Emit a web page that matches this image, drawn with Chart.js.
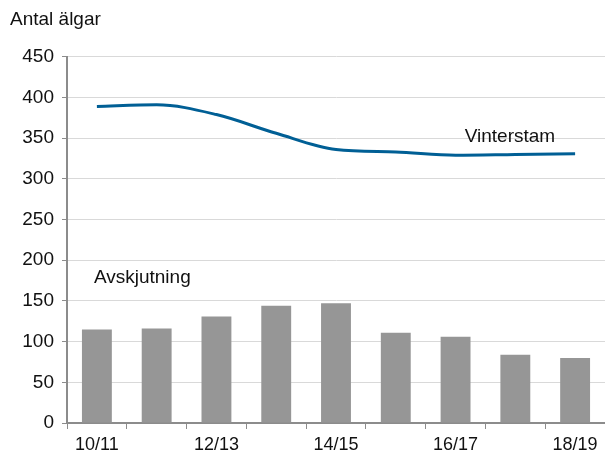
<!DOCTYPE html>
<html>
<head>
<meta charset="utf-8">
<script src="https://cdn.jsdelivr.net/npm/chart.js@4"></script>
<style>
  html, body { margin: 0; padding: 0; background: #fff; }
  #wrap { width: 605px; height: 455px; }
</style>
</head>
<body>
<div id="wrap"><canvas id="elgChart" width="605" height="455"></canvas></div>
<script>
// säsonger och värden
const seasons = ["10/11", "11/12", "12/13", "13/14", "14/15", "15/16", "16/17", "17/18", "18/19"];
const avskjutning = [115, 116, 131, 144, 147, 111, 106, 84, 80];
const vinterstam = [389, 391, 379, 356, 336, 333, 329, 330, 331];
const yTicks = [0, 50, 100, 150, 200, 250, 300, 350, 400, 450];

const fontFam = "'Liberation Sans', Arial, sans-serif";
Chart.defaults.font.family = fontFam;
Chart.defaults.font.size = 19;
Chart.defaults.color = "#111";

// textetiketter i diagrammet
const seriesLabels = {
    id: "seriesLabels",
    afterDatasetsDraw(chart) {
        const ctx = chart.ctx;
        const x = chart.scales.x, y = chart.scales.y;
        ctx.save();
        ctx.font = "19px " + fontFam;
        ctx.fillStyle = "#111";
        ctx.textBaseline = "middle";
        ctx.textAlign = "center";
        ctx.fillText("Vinterstam", x.getPixelForValue(6.91), y.getPixelForValue(352));
        ctx.textAlign = "left";
        ctx.fillText("Avskjutning", x.getPixelForValue(-0.05), y.getPixelForValue(178));
        ctx.restore();
    }
};

let ctx = document.getElementById("elgChart").getContext("2d");
let elgChart = new Chart(ctx, {
    type: "bar",
    data: {
        labels: seasons,
        datasets: [{
            type: "line",
            label: "Vinterstam",
            data: vinterstam,
            borderColor: "#005f95",
            borderWidth: 3,
            pointRadius: 0,
            tension: 0.4,
            cubicInterpolationMode: "monotone",
            fill: false,
            order: 0
        }, {
            type: "bar",
            label: "Avskjutning",
            data: avskjutning,
            backgroundColor: "#969696",
            categoryPercentage: 0.5,
            barPercentage: 1.0,
            order: 1
        }]
    },
    options: {
        responsive: false,
        maintainAspectRatio: false,
        animation: false,
        layout: { padding: { left: 10, right: 0, top: 0, bottom: 0 } },
        plugins: {
            legend: { display: false },
            tooltip: { enabled: false },
            title: {
                display: true,
                text: "Antal älgar",
                align: "start",
                color: "#111",
                font: { size: 19, weight: "normal" },
                padding: { top: 8, bottom: 26 }
            }
        },
        scales: {
            x: {
                offset: true,
                grid: {
                    offset: true,
                    drawOnChartArea: false,
                    drawTicks: true,
                    tickLength: 6,
                    color: "#8c8c8c",
                    lineWidth: 1
                },
                border: { color: "#8c8c8c", width: 2 },
                ticks: {
                    autoSkip: false,
                    maxRotation: 0,
                    padding: 5,
                    color: "#111",
                    font: { size: 18 },
                    callback: function(val, i) { return i % 2 === 0 ? seasons[i] : ""; }
                },
                afterFit: function(scale) { scale.height = 32; }
            },
            y: {
                min: 0,
                max: 450,
                afterBuildTicks: function(scale) { scale.ticks = yTicks.map(v => ({ value: v })); },
                afterFit: function(scale) { scale.width = 57; },
                grid: {
                    color: "#d9d9d9",
                    lineWidth: 1,
                    tickLength: 5,
                    tickColor: "#8c8c8c"
                },
                border: { color: "#8c8c8c", width: 2 },
                ticks: {
                    padding: 8,
                    color: "#111"
                }
            }
        }
    },
    plugins: [seriesLabels]
});
</script>
</body>
</html>
